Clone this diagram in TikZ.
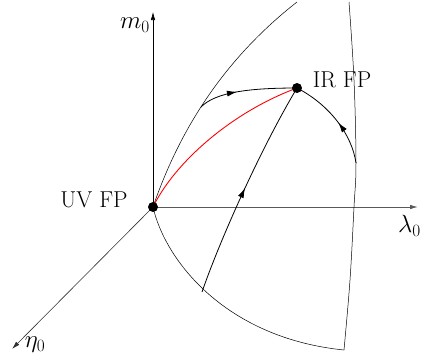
\documentclass[tikz,border=0pt]{standalone}
\usetikzlibrary{arrows.meta,decorations.markings}
\begin{document}
\begin{tikzpicture}[x=1pt, y=-1pt, font=\fontsize{23}{27}\selectfont, >={Latex[length=8pt,width=4.5pt]},
	axis/.style={->, line width=0.6pt},
	boundary/.style={line width=0.5pt},
	flowline/.style={line width=0.8pt, postaction={decorate},
		decoration={markings, mark=at position #1 with {\arrow{Latex[length=10pt,width=6pt]}}}},
	fpdot/.style={circle, fill=black, inner sep=0pt, minimum size=10pt}]
	\useasboundingbox (0,0) rectangle (421,360);
	
	% Các điểm cố định
	\coordinate (uv) at (153,207);
	\coordinate (ir) at (297,88);
	
	% Các điểm trên biên
	\coordinate (Ltop) at (297,2);
	\coordinate (Rtop) at (349,2);
	\coordinate (Rbot) at (344,350);
	\coordinate (B) at (202,292);
	\coordinate (C) at (356,163);
	
	% Vẽ các trục
	\coordinate (mtip) at (153,12);
	\coordinate (ltip) at (418,207);
	\coordinate (etip) at (12,349);
	\draw[axis] (uv) -- (mtip);
	\draw[axis, black!65, line width=0.9pt] (uv) -- (ltip);
	\draw[axis, black!80] (uv) -- (etip);
	\node (mlabel) at (135,25) {$m_0$};
	\node[anchor=east, inner sep=0pt] (llabel) at (421,226) {$\lambda_0$};
	\node (elabel) at (35,345) {$\eta_0$};
	
	% Các đường biên
	\draw[boundary] (uv) .. controls (177,137) and (219,63) .. coordinate[pos=0.47] (A) (Ltop);
	\draw[boundary] plot[smooth, tension=0.6] coordinates {(Rtop) (354,80) (C) (354,207) (350,280) (Rbot)};
	\draw[boundary] (uv) .. controls (165,260) and (225,338) .. (Rbot);
	
	% Các đường dòng
	\draw[flowline=0.4] (A) .. controls (215,92) and (250,88) .. (ir);
	\draw[flowline=0.5] (B) .. controls (220,240) and (260,150) .. (ir);
	\draw[flowline=0.45] (C) .. controls (352,135) and (330,105) .. (ir);
	
	% Đường màu đỏ
	\draw[red, line width=0.9pt] (uv) .. controls (175,162) and (232,112) .. (ir);
	
	% Các điểm và nhãn
	\node[fpdot] (uvdot) at (uv) {};
	\node[fpdot] (irdot) at (ir) {};
	\node (uvlabel) at (94,200) {UV FP};
	\node (irlabel) at (342,80) {IR FP};
\end{tikzpicture}
\end{document}
